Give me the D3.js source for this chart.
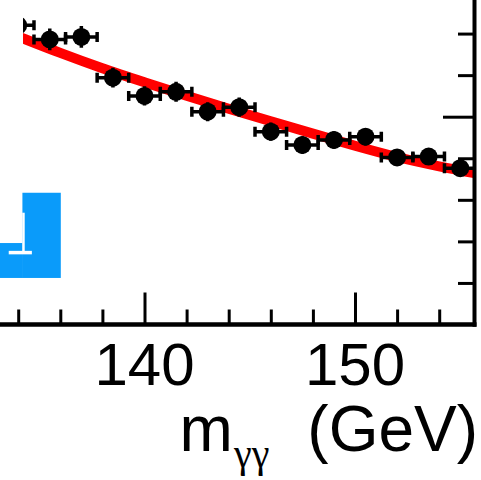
<!DOCTYPE html>
<meta charset="utf-8">
<style>
body { margin: 0; background: #fff; }
svg { display: block; font-family: "Liberation Sans", Arial, sans-serif; }
.tick line { stroke: #000; stroke-width: 3; }
</style>

<svg width="481" height="480"></svg>

<script src="https://d3js.org/d3.v7.min.js"></script>
<script>

// bin centres (GeV), event counts and their errors
var massBins = [134, 135.5, 137, 138.5, 140, 141.5, 143, 144.5, 146, 147.5, 149, 150.5, 152, 153.5, 155];
var counts   = [720, 686, 692, 594, 550, 560, 512, 523, 464, 432, 444, 452, 402, 404, 376];
var countErr = [27, 26, 26, 24, 23, 24, 23, 23, 22, 21, 21, 21, 20, 20, 19];
var binHalf = 0.75;

// background fit
var fitMass = [134, 136, 138, 140, 142, 144, 146, 148, 150, 152, 154, 156];
var fitVals = [693, 653, 616, 583, 550, 519, 489, 459, 430, 402, 380, 361];

// blue patch in the lower left
var patchEdges = [133.1, 134.2, 136.0];
var patchTops  = [196, 317];
var patchBase  = 112;
var patchBar   = {m: 134.25, lo: 173, hi: 269, capLo: 133.55, capHi: 134.65};

var xMinorTicks = [134, 136, 138, 142, 144, 146, 148, 152, 154];
var xMajorTicks = [140, 150];
var yMinorTicks = [100, 200, 300, 400, 600, 700];
var yMajorTicks = [500];

var svg = d3.select("svg"),
    width = +svg.attr("width"),
    height = +svg.attr("height");

var frameLeft = 23, frameRight = 474.5, frameBottom = 324.5;

var x = d3.scaleLinear().domain([140, 150]).range([144.5, 355]);
var y = d3.scaleLinear().domain([0, 500]).range([frameBottom, 116.7]);

svg.append("clipPath").attr("id", "frame")
  .append("rect")
    .attr("x", frameLeft).attr("y", 0)
    .attr("width", frameRight - frameLeft).attr("height", frameBottom);

var plot = svg.append("g").attr("clip-path", "url(#frame)");

// fit band
var line = d3.line()
    .x(d => x(d[0]))
    .y(d => y(d[1]))
    .curve(d3.curveBasis);

plot.append("path")
    .datum(d3.zip(fitMass, fitVals))
    .attr("d", line)
    .attr("fill", "none")
    .attr("stroke", "#ff0000")
    .attr("stroke-width", 10)
    .attr("stroke-linecap", "butt");

// data points
var pts = massBins.map((m, i) => ({m: m, n: counts[i], e: countErr[i]}));

var err = plot.append("g")
    .attr("stroke", "#000")
    .attr("stroke-width", 3.5)
  .selectAll("g")
  .data(pts)
  .enter().append("g");

err.append("line")
    .attr("x1", d => x(d.m - binHalf)).attr("x2", d => x(d.m + binHalf))
    .attr("y1", d => y(d.n)).attr("y2", d => y(d.n));
err.append("line")
    .attr("x1", d => x(d.m - binHalf)).attr("x2", d => x(d.m - binHalf))
    .attr("y1", d => y(d.n) - 5).attr("y2", d => y(d.n) + 5);
err.append("line")
    .attr("x1", d => x(d.m + binHalf)).attr("x2", d => x(d.m + binHalf))
    .attr("y1", d => y(d.n) - 5).attr("y2", d => y(d.n) + 5);
err.append("line")
    .attr("x1", d => x(d.m)).attr("x2", d => x(d.m))
    .attr("y1", d => y(d.n - d.e)).attr("y2", d => y(d.n + d.e));

plot.append("g")
  .selectAll("circle")
  .data(pts)
  .enter().append("circle")
    .attr("cx", d => x(d.m))
    .attr("cy", d => y(d.n))
    .attr("r", 9)
    .attr("fill", "#000");

// blue patch
var patch = svg.append("g");
patch.selectAll("rect")
  .data(patchTops)
  .enter().append("rect")
    .attr("x", (d, i) => x(patchEdges[i]))
    .attr("width", (d, i) => x(patchEdges[i + 1]) - x(patchEdges[i]) + 0.5)
    .attr("y", d => y(d))
    .attr("height", d => y(patchBase) - y(d))
    .attr("fill", "#0a9bfa");

patch.append("line")
    .attr("x1", x(patchBar.m)).attr("x2", x(patchBar.m))
    .attr("y1", y(patchBar.lo)).attr("y2", y(patchBar.hi))
    .attr("stroke", "#fff").attr("stroke-width", 2.5);
patch.append("line")
    .attr("x1", x(patchBar.capLo)).attr("x2", x(patchBar.capHi))
    .attr("y1", y(patchBar.lo)).attr("y2", y(patchBar.lo))
    .attr("stroke", "#fff").attr("stroke-width", 3.5);

// axes
function strip(g) { g.select(".domain").remove(); }

svg.append("g")
    .attr("transform", "translate(0," + frameBottom + ")")
    .call(d3.axisBottom(x).tickValues(xMinorTicks).tickSize(-15).tickFormat(""))
    .call(strip);

svg.append("g")
    .attr("transform", "translate(0," + frameBottom + ")")
    .call(d3.axisBottom(x).tickValues(xMajorTicks).tickSize(-32).tickFormat(""))
    .call(strip);

svg.append("g")
    .attr("transform", "translate(" + frameRight + ",0)")
    .call(d3.axisRight(y).tickValues(yMinorTicks).tickSize(-16.5).tickFormat(""))
    .call(strip);

svg.append("g")
    .attr("transform", "translate(" + frameRight + ",0)")
    .call(d3.axisRight(y).tickValues(yMajorTicks).tickSize(-31.5).tickFormat(""))
    .call(strip);

// frame
svg.append("line")
    .attr("x1", 0).attr("x2", frameRight + 2)
    .attr("y1", frameBottom).attr("y2", frameBottom)
    .attr("stroke", "#000").attr("stroke-width", 4.5);
svg.append("line")
    .attr("x1", frameRight).attr("x2", frameRight)
    .attr("y1", 0).attr("y2", frameBottom + 2.2)
    .attr("stroke", "#000").attr("stroke-width", 4);

// tick labels
svg.append("g")
  .selectAll("text")
  .data(xMajorTicks)
  .enter().append("text")
    .attr("x", d => x(d))
    .attr("y", 385)
    .attr("text-anchor", "middle")
    .attr("font-size", 60)
    .text(d => d);

// axis title
svg.append("text")
    .attr("x", 179.5).attr("y", 451)
    .attr("font-size", 64)
    .text("m");
svg.append("text")
    .attr("x", 234).attr("y", 467)
    .attr("font-size", 40)
    .attr("font-family", "'Liberation Serif', 'DejaVu Serif', serif")
    .text("γγ");
svg.append("text")
    .attr("x", 478).attr("y", 451)
    .attr("text-anchor", "end")
    .attr("font-size", 64)
    .text("(GeV)");

</script>
